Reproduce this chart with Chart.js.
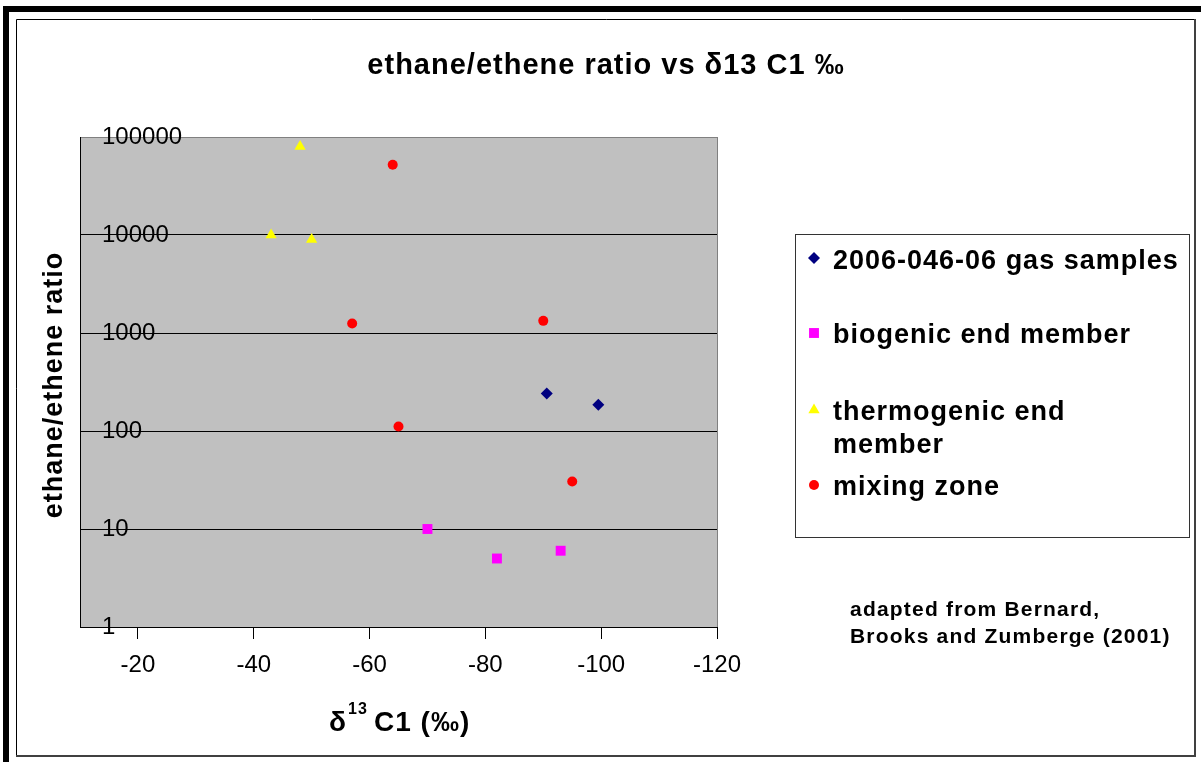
<!DOCTYPE html>
<html>
<head>
<meta charset="utf-8">
<script src="https://cdn.jsdelivr.net/npm/chart.js@4.4.0/dist/chart.umd.min.js"></script>
<style>
html,body{margin:0;padding:0;background:#fff;}
canvas{display:block;}
</style>
</head>
<body>
<canvas id="c" width="1201" height="762"></canvas>
<script>
// ---- data ----
const seriesNames = ['2006-046-06 gas samples', 'biogenic end member', 'thermogenic end member', 'mixing zone'];
const legendLines = [['2006-046-06 gas samples'], ['biogenic end member'], ['thermogenic end', 'member'], ['mixing zone']];
const gasX = [-90.6, -99.5];
const gasY = [242, 185];
const bioX = [-70, -82, -93];
const bioY = [10, 5, 6];
const thermoX = [-48, -43, -50];
const thermoY = [80000, 10000, 9000];
const mixX = [-64, -57, -90, -65, -95];
const mixY = [52000, 1250, 1330, 111, 30.5];
const xTicks = [-20, -40, -60, -80, -100, -120];
const yTicks = [1, 10, 100, 1000, 10000, 100000];
const titleText = 'ethane/ethene ratio vs \u03B413 C1 \u2030';
const yTitleText = 'ethane/ethene ratio';
const noteLines = ['adapted from Bernard,', 'Brooks and Zumberge (2001)'];

const FONT = '"Liberation Sans", Arial, Helvetica, sans-serif';

function pts(xs, ys) { return xs.map((x, i) => ({x: x, y: ys[i]})); }

function drawMarker(ctx, style, x, y, r, color) {
  ctx.fillStyle = color;
  ctx.beginPath();
  if (style === 'rectRot') {
    ctx.moveTo(x - r, y); ctx.lineTo(x, y - r); ctx.lineTo(x + r, y); ctx.lineTo(x, y + r);
  } else if (style === 'rect') {
    const s = r * Math.SQRT1_2;
    ctx.rect(x - s, y - s, 2 * s, 2 * s);
  } else if (style === 'triangle') {
    for (let k = 0; k < 3; k++) {
      const a = k * 2 * Math.PI / 3;
      const px = x + Math.sin(a) * r, py = y - Math.cos(a) * r;
      if (k === 0) ctx.moveTo(px, py); else ctx.lineTo(px, py);
    }
  } else {
    ctx.arc(x, y, r, 0, Math.PI * 2);
  }
  ctx.closePath();
  ctx.fill();
}

const deco = {
  id: 'deco',
  beforeDraw(chart) {
    const ctx = chart.ctx, a = chart.chartArea;
    ctx.save();
    ctx.fillStyle = '#fff';
    ctx.fillRect(0, 0, chart.width, chart.height);
    // outer frame
    ctx.fillStyle = '#000';
    ctx.fillRect(3, 6, 6, 756);
    ctx.fillRect(3, 6, 1198, 6);
    ctx.strokeStyle = '#000';
    ctx.lineWidth = 1;
    ctx.beginPath();
    ctx.moveTo(16.5, 757); ctx.lineTo(16.5, 19.5); ctx.lineTo(1196, 19.5);
    ctx.stroke();
    ctx.strokeStyle = '#404040';
    ctx.lineWidth = 2;
    ctx.beginPath();
    ctx.moveTo(1195, 19); ctx.lineTo(1195, 756); ctx.lineTo(16, 756);
    ctx.stroke();
    // plot background
    ctx.fillStyle = '#C0C0C0';
    ctx.fillRect(a.left, a.top, a.right - a.left, a.bottom - a.top);
    ctx.restore();
  },
  beforeDatasetsDraw(chart) {
    const ctx = chart.ctx, a = chart.chartArea;
    ctx.save();
    ctx.strokeStyle = '#808080';
    ctx.lineWidth = 1;
    ctx.beginPath();
    ctx.moveTo(a.right + 0.5, a.top); ctx.lineTo(a.right + 0.5, a.bottom);
    ctx.stroke();
    ctx.restore();
  },
  afterDraw(chart) {
    const ctx = chart.ctx;
    ctx.save();
    ctx.fillStyle = '#000';
    ctx.textBaseline = 'alphabetic';
    // title
    ctx.letterSpacing = '1px';
    ctx.font = 'bold 29px ' + FONT;
    ctx.textAlign = 'center';
    ctx.fillText(titleText, 606, 74);
    // y axis title
    ctx.save();
    ctx.font = 'bold 27px ' + FONT;
    ctx.translate(62, 385);
    ctx.rotate(-Math.PI / 2);
    ctx.textAlign = 'center';
    ctx.fillText(yTitleText, 0, 0);
    ctx.restore();
    // x axis title with superscript
    ctx.textAlign = 'left';
    ctx.font = 'bold 28px ' + FONT;
    ctx.fillText('\u03B4', 329, 731);
    ctx.font = 'bold 16px ' + FONT;
    ctx.fillText('13', 348, 714);
    ctx.font = 'bold 28px ' + FONT;
    ctx.fillText('C1 (\u2030)', 374, 731);
    // legend box
    ctx.letterSpacing = '0px';
    ctx.fillStyle = '#fff';
    ctx.fillRect(795, 234, 394, 303);
    ctx.strokeStyle = '#333';
    ctx.lineWidth = 1;
    ctx.strokeRect(795.5, 234.5, 394, 303);
    const markerY = [258, 333, 410, 485];
    const baseY = [268.5, 343, 420, 495];
    chart.data.datasets.forEach((ds, i) => {
      drawMarker(ctx, ds.pointStyle, 814, markerY[i], ds.pointRadius, ds.backgroundColor);
    });
    ctx.fillStyle = '#000';
    ctx.letterSpacing = '1px';
    ctx.font = 'bold 27px ' + FONT;
    ctx.textAlign = 'left';
    legendLines.forEach((lines, i) => {
      lines.forEach((ln, j) => ctx.fillText(ln, 833, baseY[i] + j * 33));
    });
    // note
    ctx.letterSpacing = '1.2px';
    ctx.font = 'bold 21px ' + FONT;
    ctx.fillText(noteLines[0], 850, 616);
    ctx.fillText(noteLines[1], 850, 643);
    ctx.restore();
  }
};

new Chart(document.getElementById('c'), {
  type: 'scatter',
  data: {
    datasets: [
      {label: seriesNames[0], data: pts(gasX, gasY), pointStyle: 'rectRot', pointRadius: 6, backgroundColor: '#000080', borderColor: '#000080', borderWidth: 0},
      {label: seriesNames[1], data: pts(bioX, bioY), pointStyle: 'rect', pointRadius: 7, backgroundColor: '#FF00FF', borderColor: '#FF00FF', borderWidth: 0},
      {label: seriesNames[2], data: pts(thermoX, thermoY), pointStyle: 'triangle', pointRadius: 6.5, backgroundColor: '#FFFF00', borderColor: '#FFFF00', borderWidth: 0},
      {label: seriesNames[3], data: pts(mixX, mixY), pointStyle: 'circle', pointRadius: 5, backgroundColor: '#FF0000', borderColor: '#FF0000', borderWidth: 0}
    ]
  },
  options: {
    responsive: false,
    animation: false,
    devicePixelRatio: 1,
    layout: {padding: {left: 0, right: 484, top: 137, bottom: 0}},
    plugins: {legend: {display: false}, title: {display: false}, tooltip: {enabled: false}},
    scales: {
      x: {
        type: 'linear', position: 'bottom', min: -120, max: -10, reverse: true,
        afterBuildTicks: s => { s.ticks = xTicks.map(v => ({value: v})); },
        afterFit: s => { s.height = 135; },
        grid: {display: true, drawOnChartArea: false, drawTicks: true, tickLength: 12, color: '#000', lineWidth: 1},
        border: {display: true, color: '#000', width: 1},
        ticks: {color: '#000', font: {family: FONT, size: 24}, padding: 12, maxRotation: 0, autoSkip: false, callback: v => String(v)}
      },
      y: {
        type: 'logarithmic', position: 'left', min: 1, max: 100000,
        afterBuildTicks: s => { s.ticks = yTicks.map(v => ({value: v, major: true})); },
        afterFit: s => { s.width = 80; },
        grid: {color: c => (c.tick && c.tick.value === 100000) ? '#808080' : '#000', lineWidth: 1, drawTicks: false, tickLength: 0},
        border: {display: true, color: '#000', width: 1},
        ticks: {mirror: true, padding: 22, color: '#000', font: {family: FONT, size: 24}, autoSkip: false, callback: v => String(v)}
      }
    }
  },
  plugins: [deco]
});
</script>
</body>
</html>
